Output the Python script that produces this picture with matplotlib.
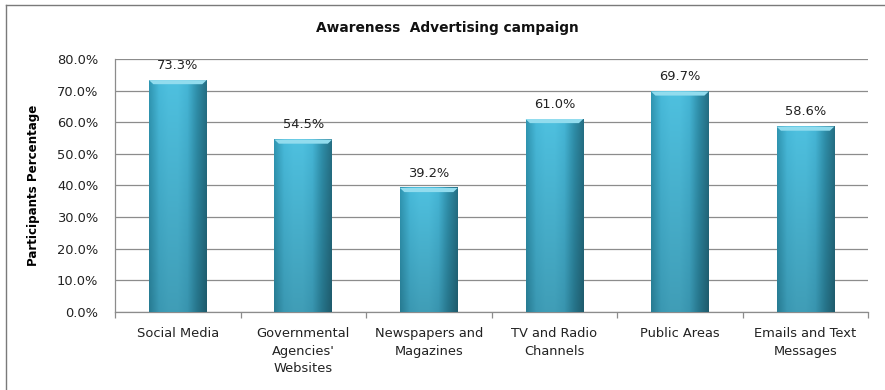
import matplotlib
matplotlib.use("Agg")
import matplotlib.pyplot as plt
import numpy as np
from matplotlib.colors import LinearSegmentedColormap
from matplotlib.patches import Polygon
from matplotlib.lines import Line2D

# campaign channels and share of participants who saw each one
channels = ["Social Media", "Governmental\nAgencies'\nWebsites", "Newspapers and\nMagazines",
            "TV and Radio\nChannels", "Public Areas", "Emails and Text\nMessages"]
awareness = [73.3, 54.5, 39.2, 61.0, 69.7, 58.6]
y_ticks = [0, 10, 20, 30, 40, 50, 60, 70, 80]

plt.rcParams['font.family'] = ['DejaVu Sans']
FS = 9.4

fig = plt.figure(figsize=(8.85, 3.9), dpi=100)
ax = fig.add_axes([0.130, 0.200, 0.851, 0.649])

# side-to-side shading for the bars: dark rim, light body
side_cmap = LinearSegmentedColormap.from_list(
    "bar", ["#3096b2", "#47b9d9", "#4ec0df", "#4ec0df", "#45b5d5", "#2f8faa", "#256f84"])
grad = np.linspace(0, 1, 64)[None, :]

width = 0.46
for i, v in enumerate(awareness):
    x0, x1 = i - width / 2, i + width / 2
    # vertical darkening toward the base
    shade = np.linspace(0.82, 1.0, 50)[:, None]
    rgb = side_cmap(np.repeat(grad, 50, axis=0))[:, :, :3] * shade[:, :, None]
    ax.imshow(rgb, extent=[x0, x1, 0, v], origin="lower", aspect="auto", zorder=3,
              interpolation="bilinear")
    # bevelled top edge
    bev = 1.3
    dx = 0.035
    ax.add_patch(Polygon([[x0, v], [x1, v], [x1 - dx, v - bev], [x0 + dx, v - bev]],
                         closed=True, facecolor="#92dcee", edgecolor="none", zorder=4))
    ax.text(i, v + 2.6, f"{v:.1f}%", ha="center", va="bottom", fontsize=FS,
            color="#222222", zorder=5)

ax.set_xlim(-0.5, len(channels) - 0.5)
ax.set_ylim(0, 80)
ax.set_yticks(y_ticks)
ax.set_yticklabels([f"{t:.1f}%" for t in y_ticks], fontsize=FS, color="#222222")
ax.yaxis.grid(True, color="#8c8c8c", linewidth=0.9)
ax.set_axisbelow(True)

ax.set_xticks(range(len(channels)))
ax.set_xticklabels(channels, fontsize=FS, color="#222222", linespacing=1.45)
ax.tick_params(axis="x", length=0, pad=11)
ax.tick_params(axis="y", length=0, pad=12)
# category separators on the base line
ax.set_xticks(np.arange(-0.5, len(channels)), minor=True)
ax.tick_params(axis="x", which="minor", length=4, color="#8c8c8c", width=0.9)

for side in ["top", "right"]:
    ax.spines[side].set_visible(False)
for side in ["left", "bottom"]:
    ax.spines[side].set_color("#8c8c8c")
    ax.spines[side].set_linewidth(0.9)

ax.set_ylabel("Participants Percentage", fontsize=8.6, fontweight="bold", labelpad=12)
fig.text(0.505, 0.928, "Awareness  Advertising campaign", ha="center", va="center",
         fontsize=9.9, fontweight="bold", color="#111111")

# chart frame
fig.add_artist(Line2D([0.0068, 0.0068], [0, 0.987], color="#7a7a7a", linewidth=1.0,
                      transform=fig.transFigure))
fig.add_artist(Line2D([0.0068, 1.0], [0.987, 0.987], color="#7a7a7a", linewidth=1.0,
                      transform=fig.transFigure))

fig.savefig("out.png", dpi=100)
